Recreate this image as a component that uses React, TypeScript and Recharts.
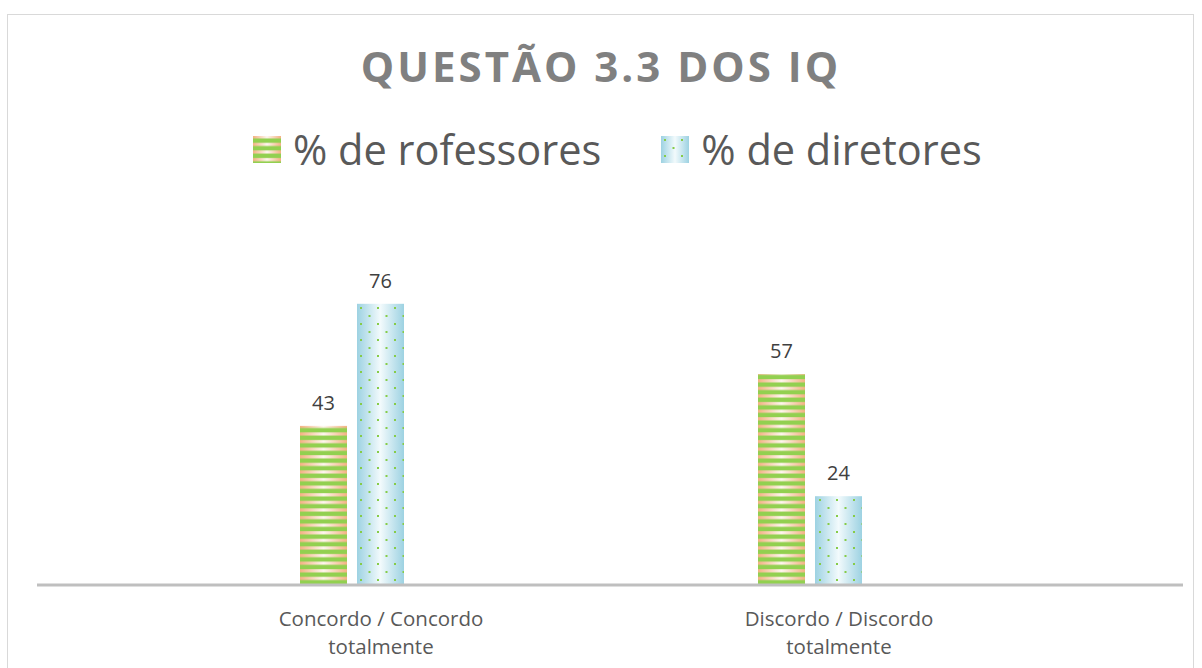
import React from 'react';
import { BarChart, Bar, XAxis, YAxis, LabelList, Legend } from 'recharts';

const categories = ['Concordo / Concordo totalmente', 'Discordo / Discordo totalmente'];
const professores = [43, 57];
const diretores = [76, 24];
const seriesNames = ['% de rofessores', '% de diretores'];

const data = categories.map((c, i) => ({
  name: c,
  professores: professores[i],
  diretores: diretores[i],
}));

const FONT = '"Open Sans", sans-serif';

const Defs = () => (
  <svg width={0} height={0} style={{ position: 'absolute' }}>
    <defs>
      <linearGradient id="peachGrad" x1="0" y1="0" x2="1" y2="0">
        <stop offset="0%" stopColor="#f4b183" />
        <stop offset="50%" stopColor="#fff6ef" />
        <stop offset="100%" stopColor="#f4b183" />
      </linearGradient>
      <pattern id="stripes" patternUnits="userSpaceOnUse" width={8} height={7.6}>
        <rect x={0} y={2.4} width={8} height={4.4} fill="#92d050" />
      </pattern>
      <linearGradient id="blueGrad" x1="0" y1="0" x2="1" y2="0">
        <stop offset="0%" stopColor="#9dd2e2" />
        <stop offset="50%" stopColor="#f2fafc" />
        <stop offset="100%" stopColor="#9dd2e2" />
      </linearGradient>
      <pattern id="dots" patternUnits="userSpaceOnUse" width={17} height={16}>
        <rect x={3} y={3} width={2} height={2} fill="#86cc48" />
        <rect x={11.5} y={11} width={2} height={2} fill="#86cc48" />
      </pattern>
    </defs>
  </svg>
);

const StripeBar = (props: any) => {
  const { x, y, width, height } = props;
  return (
    <g>
      <rect x={x} y={y} width={width} height={height} fill="url(#peachGrad)" />
      <rect x={x} y={y} width={width} height={height} fill="url(#stripes)" />
    </g>
  );
};

const DotBar = (props: any) => {
  const { x, y, width, height } = props;
  return (
    <g>
      <rect x={x} y={y} width={width} height={height} fill="url(#blueGrad)" />
      <rect x={x} y={y} width={width} height={height} fill="url(#dots)" />
    </g>
  );
};

const CategoryTick = (props: any) => {
  const { x, y, payload } = props;
  const words = String(payload.value).split(' ');
  const lines = [words.slice(0, -1).join(' '), words[words.length - 1]];
  return (
    <g>
      {lines.map((l, i) => (
        <text
          key={i}
          x={x + 29}
          y={y + 39 + i * 28}
          textAnchor="middle"
          fontFamily={FONT}
          fontSize={20.5}
          fill="#595959"
        >
          {l}
        </text>
      ))}
    </g>
  );
};

const LegendContent = () => {
  const markers = [
    ['url(#peachGrad)', 'url(#stripes)'],
    ['url(#blueGrad)', 'url(#dots)'],
  ];
  return (
    <div style={{ display: 'flex', alignItems: 'center', paddingLeft: 253 }}>
      {seriesNames.map((n, i) => (
        <div key={n} style={{ display: 'flex', alignItems: 'center', marginRight: 60 }}>
          <svg width={28} height={27}>
            <rect x={0} y={0} width={28} height={27} fill={markers[i][0]} />
            <rect x={0} y={0} width={28} height={27} fill={markers[i][1]} />
          </svg>
          <span style={{ marginLeft: 12, fontFamily: FONT, fontSize: 41.5, color: '#595959', lineHeight: '54px' }}>
            {n}
          </span>
        </div>
      ))}
    </div>
  );
};

export default function App() {
  return (
    <div style={{ position: 'fixed', left: 0, top: 0, width: 1202, height: 668, background: '#fff', overflow: 'hidden' }}>
      <Defs />
      <div
        style={{
          position: 'absolute',
          left: 7,
          top: 14,
          width: 1187,
          height: 700,
          border: '1.5px solid #d9d9d9',
          boxSizing: 'border-box',
        }}
      />
      <div
        style={{
          position: 'absolute',
          left: 0,
          top: 36,
          width: 1202,
          textAlign: 'center',
          fontFamily: FONT,
          fontWeight: 700,
          fontSize: 42,
          letterSpacing: 3,
          color: '#808080',
          lineHeight: '60px',
        }}
      >
        QUESTÃO 3.3 DOS IQ
      </div>
      <div style={{ position: 'absolute', left: 0, top: 0 }}>
        <BarChart
          width={1202}
          height={668}
          data={data}
          margin={{ top: 235, right: 19, bottom: 23, left: 37 }}
          barSize={47}
          barGap={10}
        >
          <XAxis
            dataKey="name"
            axisLine={{ stroke: '#bfbfbf', strokeWidth: 3 }}
            tickLine={false}
            tickSize={0}
            height={60}
            padding={{ left: 86, right: 144 }}
            tick={<CategoryTick />}
            interval={0}
          />
          <YAxis hide domain={[0, 80]} />
          <Legend
            verticalAlign="top"
            height={54}
            content={<LegendContent />}
            wrapperStyle={{ position: 'absolute', top: 122, left: 0, width: 1202 }}
          />
          <Bar dataKey="professores" name={seriesNames[0]} shape={<StripeBar />} isAnimationActive={false}>
            <LabelList dataKey="professores" position="top" offset={16} fontFamily={FONT} fontSize={20} fill="#404040" />
          </Bar>
          <Bar dataKey="diretores" name={seriesNames[1]} shape={<DotBar />} isAnimationActive={false}>
            <LabelList dataKey="diretores" position="top" offset={16} fontFamily={FONT} fontSize={20} fill="#404040" />
          </Bar>
        </BarChart>
      </div>
    </div>
  );
}
